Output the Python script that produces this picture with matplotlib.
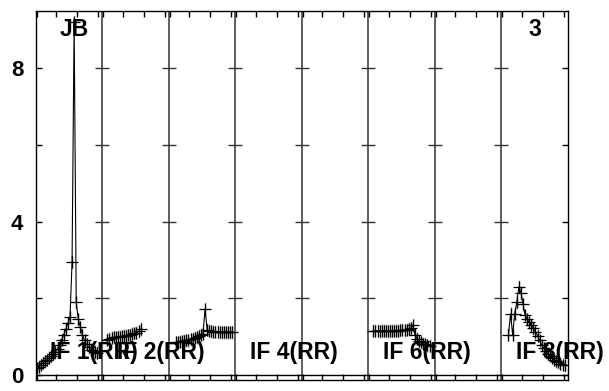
import matplotlib
matplotlib.use("Agg")
import matplotlib.pyplot as plt

plt.rcParams['font.family'] = ['Liberation Sans', 'DejaVu Sans']

# ---- data (channel offsets within each IF panel and amplitudes) ----
n_chan = 32
if_labels = ["IF 1(RR)", "IF 2(RR)", "IF 4(RR)", "IF 6(RR)", "IF 8(RR)"]
label_panels = [0, 1, 3, 5, 7]

if1_chan = list(range(0, 30))
if1_amp = [0.18, 0.22, 0.27, 0.32, 0.36, 0.40, 0.45, 0.50, 0.55, 0.60,
           0.68, 0.78, 0.92, 1.05, 1.20, 1.35, 1.50, 2.95, 9.20, 1.90,
           1.45, 1.25, 1.05, 0.90, 0.80, 0.72, 0.66, 0.62, 0.60, 0.58]

if2_chan = list(range(2, 19))
if2_amp = [0.92, 0.95, 0.97, 0.98, 0.99, 1.00, 1.00, 1.01, 1.02, 1.03,
           1.04, 1.05, 1.07, 1.09, 1.10, 1.14, 1.20]

if3_chan = list(range(3, 31))
if3_amp = [0.85, 0.86, 0.87, 0.88, 0.89, 0.90, 0.91, 0.93, 0.95, 0.97,
           0.99, 1.02, 1.05, 1.08, 1.72, 1.18, 1.15, 1.14, 1.13, 1.13,
           1.13, 1.12, 1.12, 1.12, 1.12, 1.12, 1.12, 1.12]

if6_chan = list(range(2, 30))
if6_amp = [1.15, 1.16, 1.15, 1.14, 1.15, 1.16, 1.15, 1.14, 1.15, 1.16,
           1.15, 1.15, 1.16, 1.17, 1.18, 1.17, 1.18, 1.20, 1.22, 1.30,
           1.05, 0.95, 0.88, 0.85, 0.82, 0.80, 0.78, 0.76]

if8_chan = list(range(3, 31))
if8_amp = [1.05, 1.60, 1.05, 1.60, 1.90, 2.30, 2.15, 1.85, 1.56, 1.45,
           1.38, 1.30, 1.22, 1.12, 1.02, 0.90, 0.78, 0.70, 0.62, 0.56,
           0.50, 0.45, 0.40, 0.36, 0.33, 0.30, 0.27, 0.25]

series = [(0, if1_chan, if1_amp), (1, if2_chan, if2_amp), (2, if3_chan, if3_amp),
          (5, if6_chan, if6_amp), (7, if8_chan, if8_amp)]

yticks = [0, 2, 4, 6, 8]
ytick_labels = ["0", "", "4", "", "8"]
err = 0.17

fig = plt.figure(figsize=(6.09, 3.91), dpi=100)
ax = fig.add_axes([35.7 / 609, (391 - 379.5) / 391, 532 / 609, 368.8 / 391])
ax.set_xlim(0, 8 * n_chan)
ax.set_ylim(-0.117, 9.5)

for panel, ch, amp in series:
    xs = [panel * n_chan + c + 0.5 for c in ch]
    ax.errorbar(xs, amp, yerr=err, fmt='none', ecolor='#9a9a9a', elinewidth=1.0, zorder=2)
    ax.plot(xs, amp, color='black', lw=0.8, marker='+', ms=8.5, mew=0.9, zorder=3)

# panel separators and their ticks
bounds = [k * n_chan for k in range(1, 8)]
for b in bounds:
    ax.axvline(b, color='#333333', lw=1.1, zorder=1)
    ax.plot([b] * 4, [2, 4, 6, 8], ls='none', marker='_', ms=9.5, mew=1.0, color='#333333')
ax.axhline(0, color='black', lw=1.0)

# x ticks per panel
xt = [k * n_chan + t for k in range(8) for t in (0.5, 10, 20, 30)]
ax.set_xticks(xt)
ax.set_xticklabels([])
ax.tick_params(axis='x', direction='in', length=4.5, width=1, top=True, bottom=True)
ax.set_yticks(yticks)
ax.set_yticklabels(ytick_labels, fontsize=16, fontweight='bold')
ax.tick_params(axis='y', direction='in', length=4.5, width=1, left=True, right=True, pad=9)
for s in ax.spines.values():
    s.set_linewidth(1.0)

for lab, p in zip(if_labels, label_panels):
    ax.text(p * n_chan + 7.0, 0.6, lab, fontsize=16.5, fontweight='bold',
            ha='left', va='center', zorder=5)

ax.text(18.4, 9.0, "JB", fontsize=16.5, fontweight='bold', ha='center', va='center', zorder=5)
ax.text(7 * n_chan + 16, 9.0, "3", fontsize=16.5, fontweight='bold', ha='center', va='center', zorder=5)

fig.savefig("out.png", dpi=100)
